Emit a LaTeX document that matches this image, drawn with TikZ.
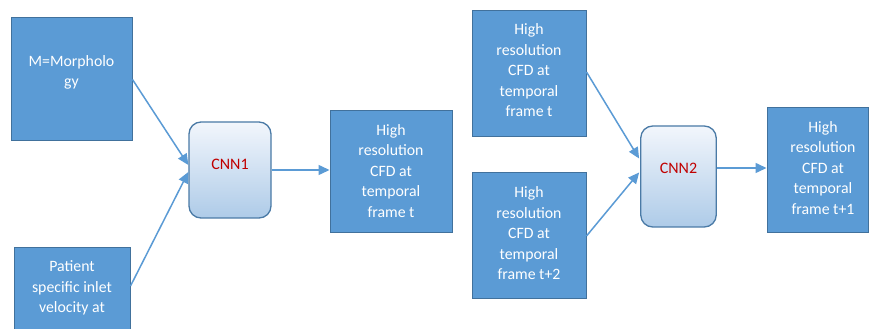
\documentclass[tikz,border=0pt]{standalone}
\usepackage{fontspec}
\setmainfont{Carlito}
\usetikzlibrary{arrows.meta}
\definecolor{boxfill}{HTML}{5B9BD5}
\definecolor{boxedge}{HTML}{41719C}
\definecolor{cnnedge}{HTML}{4A7AA6}
\definecolor{cnntop}{HTML}{F2F6FC}
\definecolor{cnnbot}{HTML}{AECBE8}
\definecolor{cnntext}{HTML}{C00000}
\tikzset{
  blockbox/.style={draw=boxedge, fill=boxfill, line width=1pt, inner sep=0pt},
  blocktext/.style={text=white, align=center, font=\fontsize{15.8}{20.5}\selectfont, inner sep=0pt},
  cnnbox/.style={draw=cnnedge, line width=1.3pt, rounded corners=12pt,
    top color=cnntop, bottom color=cnnbot, inner sep=0pt},
  cnnlabel/.style={text=cnntext, font=\fontsize{16}{18}\selectfont, inner sep=0pt},
  flow/.style={draw=boxfill, line width=1.5pt, -{Triangle[length=11pt,width=10pt]}}
}
\begin{document}
\begin{tikzpicture}[x=1pt,y=1pt]
\clip (0,0) rectangle (870,329);
\fill[white] (0,0) rectangle (870,329);

% input blocks
\node[blockbox, minimum width=121, minimum height=123] (m) at (71.5,249.5) {};
\node[blocktext] (mt) at ([yshift=7]m.center) {M=Morpholo\\gy};

\node[blockbox, minimum width=116, minimum height=110] (pv) at (72,26) {};
\node[blocktext] (pvt) at (72,41) {Patient\\specific inlet\\velocity at};

% first network
\node[cnnbox, minimum width=82, minimum height=96] (c1) at (230,159) {};
\node[cnnlabel] (c1t) at ([yshift=6]c1.center) {CNN1};

\node[blockbox, minimum width=122, minimum height=122] (f1) at (391,157) {};
\node[blocktext] (f1t) at (391,158) {High\\resolution\\CFD at\\temporal\\frame t};

% second stage inputs
\node[blockbox, minimum width=114, minimum height=126] (ft) at (529,255) {};
\node[blocktext] (ftt) at (529,258.5) {High\\resolution\\CFD at\\temporal\\frame t};

\node[blockbox, minimum width=114, minimum height=126] (ft2) at (529,93) {};
\node[blocktext] (ft2t) at (529,95.5) {High\\resolution\\CFD at\\temporal\\frame t+2};

% second network
\node[cnnbox, minimum width=75.5, minimum height=101] (c2) at (678.5,152.5) {};
\node[cnnlabel] (c2t) at ([yshift=8.5]c2.center) {CNN2};

\node[blockbox, minimum width=101, minimum height=125] (f3) at (817.5,158.5) {};
\node[blocktext] (f3t) at (823,161) {High\\resolution\\CFD at\\temporal\\frame t+1};

% connectors
\draw[flow] (m.east) -- ([yshift=5]c1.west);
\draw[flow] ([yshift=17]pv.east) -- ([yshift=-2]c1.west);
\draw[flow] (c1.east) -- (c1.east -| f1.west);
\draw[flow] ([yshift=2]ft.east) -- ([xshift=-1,yshift=18]c2.west);
\draw[flow] (ft2.east) -- ([xshift=-1,yshift=4]c2.west);
\draw[flow] ([yshift=8.5]c2.east) -- ([yshift=8.5]c2.east -| f3.west);
\end{tikzpicture}
\end{document}
